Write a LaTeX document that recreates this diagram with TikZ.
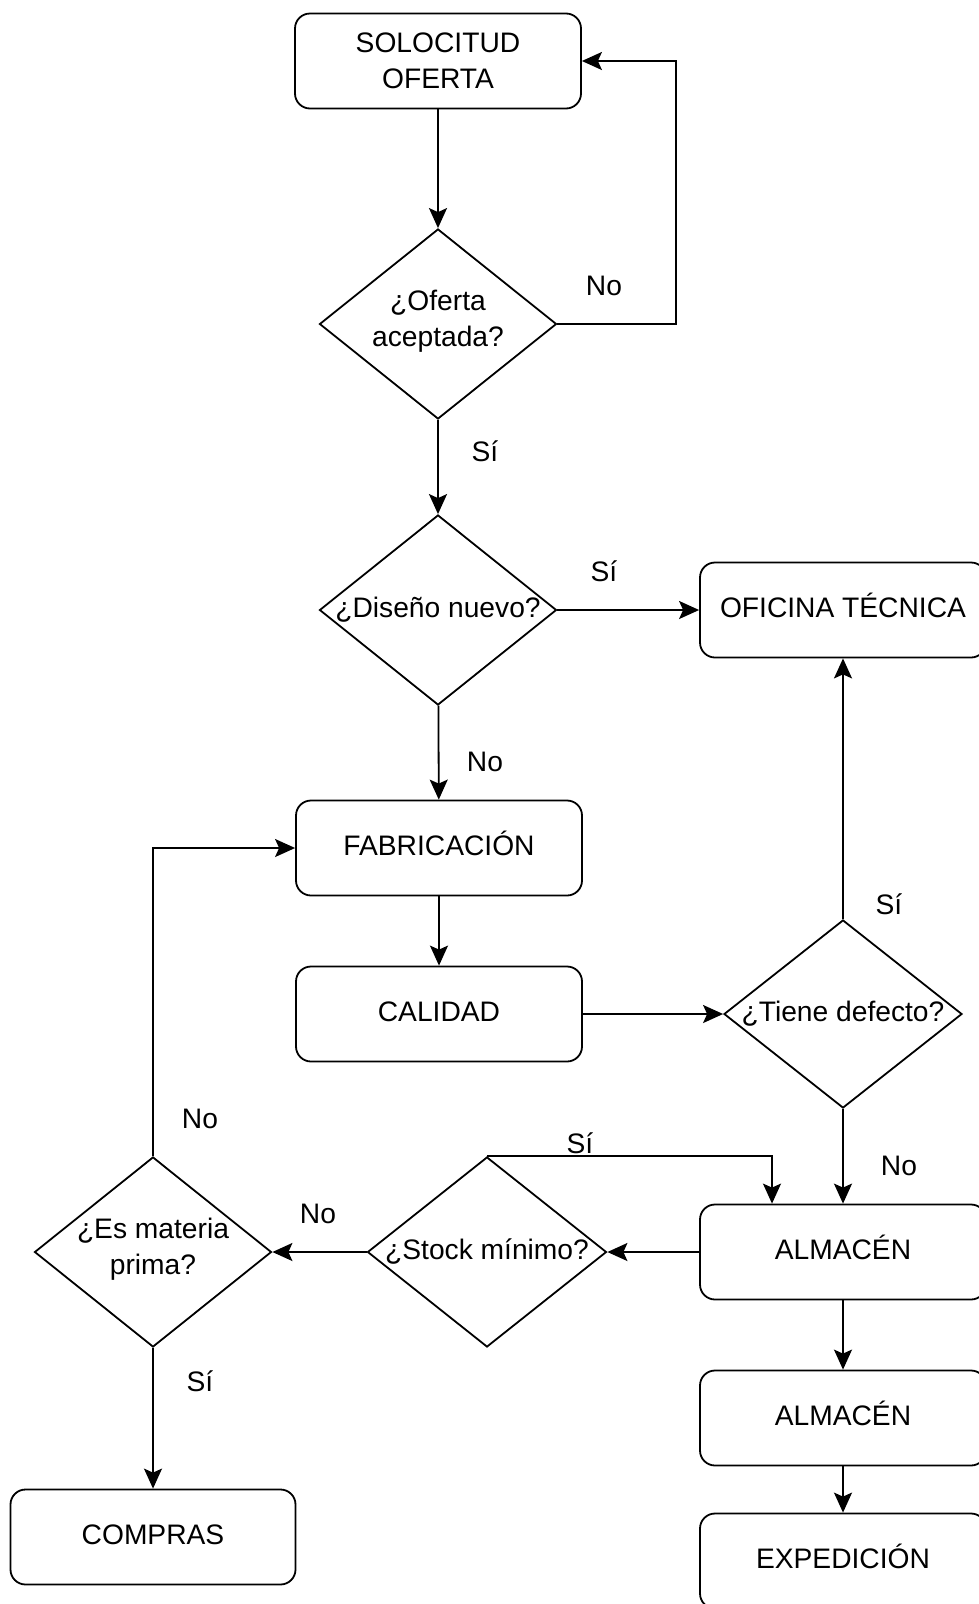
\documentclass[tikz,border=0pt]{standalone}
\usepackage{fontspec}
\setmainfont{Liberation Sans}
\usetikzlibrary{shapes.geometric,arrows.meta}

\tikzset{
  proc/.style={draw, line width=1.8pt, rounded corners=15pt,
    minimum width=286pt, minimum height=95pt, inner sep=0pt, align=center},
  decision/.style={draw, line width=1.8pt, shape=diamond,
    minimum width=237pt, minimum height=190pt, inner sep=0pt},
  oneline/.style={text height=22pt, text depth=7pt},
  flow/.style={line width=1.8pt, -{Stealth[length=20pt,width=18pt,inset=4pt]}},
  answer/.style={inner sep=0pt},
}
\newcommand{\dtext}[1]{\makebox[0pt]{#1}}
\newcommand{\dpair}[2]{\makebox[0pt]{\raisebox{3pt}[\height][\depth]{\begin{tabular}{@{}c@{}}#1\\#2\end{tabular}}}}

\begin{document}
\begin{tikzpicture}[x=1pt, y=-1pt,
    every node/.append style={font=\fontsize{28.2}{36}\selectfont}]
\useasboundingbox (0,0) rectangle (979,1604);
\clip (0,0) rectangle (979,1604);

% process boxes
\node[proc] (sol)  at (438,61)   {SOLOCITUD\\OFERTA};
\node[proc, oneline] (ofi)  at (843,610)  {OFICINA TÉCNICA};
\node[proc, oneline] (fab)  at (439,848)  {FABRICACIÓN};
\node[proc, oneline] (cal)  at (439,1014) {CALIDAD};
\node[proc, oneline] (alm1) at (843,1252) {ALMACÉN};
\node[proc, oneline] (alm2) at (843,1418) {ALMACÉN};
\node[proc, oneline] (exp)  at (843,1561) {EXPEDICIÓN};
\node[proc, oneline, minimum width=285pt] (com) at (153,1537) {COMPRAS};

% decisions
\node[decision] (d1) at (438,324)  {\dpair{¿Oferta}{aceptada?}};
\node[decision, oneline] (d2) at (438,610)  {\dtext{¿Diseño nuevo?}};
\node[decision, oneline, minimum width=238pt, minimum height=188pt] (d3) at (843,1014) {\dtext{¿Tiene defecto?}};
\node[decision, oneline, minimum width=239pt] (d4) at (487,1252) {\dtext{¿Stock mínimo?}};
\node[decision] (d5) at (153,1252) {\dpair{¿Es materia}{prima?}};

% bend points
\coordinate (loop) at (676,324);
\coordinate (stk)  at (772,1157);

% connectors
\draw[flow] (sol) -- (d1);
\draw[flow] (d1.east) -- (loop) |- (sol.east);
\draw[flow] (d1) -- (d2);
\draw[flow] (d2.east) -- (ofi.west);
\draw[flow] (d2) -- (fab);
\draw[flow] (fab) -- (cal);
\draw[flow] (cal.east) -- (d3.west);
\draw[flow] (d3.north) -- (ofi.south);
\draw[flow] (d3.south) -- (alm1.north);
\draw[flow] (alm1.west) -- (d4.east);
\draw[flow] (d4.north) -| (stk |- alm1.north);
\draw[flow] (d4.west) -- (d5.east);
\draw[flow] (d5.north) |- (fab.west);
\draw[flow] (d5.south) -- (com.north);
\draw[flow] (alm1) -- (alm2);
\draw[flow] (alm2) -- (exp);

% branch answers
\node[answer] (a1)  at (604,286)  {No};
\node[answer] (a2)  at (485,451)  {Sí};
\node[answer] (a3)  at (604,571)  {Sí};
\node[answer] (a4)  at (485,762)  {No};
\node[answer] (a5)  at (889,904)  {Sí};
\node[answer] (a6)  at (899,1166) {No};
\node[answer] (a7)  at (580,1143) {Sí};
\node[answer] (a8)  at (318,1214) {No};
\node[answer] (a9)  at (200,1119) {No};
\node[answer] (a10) at (200,1381) {Sí};
\end{tikzpicture}
\end{document}
